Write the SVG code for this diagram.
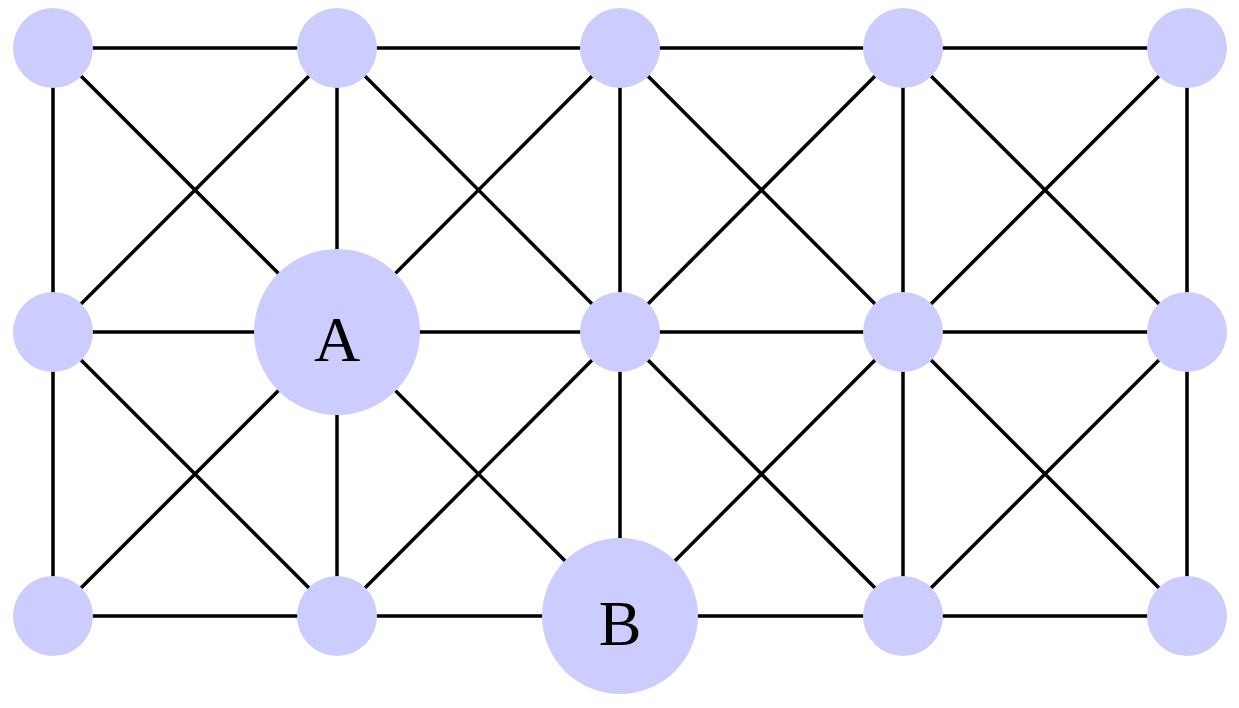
<svg xmlns="http://www.w3.org/2000/svg" width="1239" height="708" viewBox="0 0 1239 708">
<style>
.e{stroke:#000;stroke-width:3.5;fill:none}
.n{fill:#ccccff}
.t{font-family:"Liberation Serif",serif;font-size:64px;fill:#000;text-anchor:middle}
</style>
<rect width="1239" height="708" fill="#fff"/>
<g id="connectors" class="e">
<path d="M53 48H1187M53 332H1187M53 616H1187"/>
<path d="M53 48V616M337 48V616M620 48V616M903 48V616M1187 48V616"/>
<path d="M53 48L337 332L620 48L903 332L1187 48M53 332L337 48L620 332L903 48L1187 332"/>
<path d="M53 332L337 616L620 332L903 616L1187 332M53 616L337 332L620 616L903 332L1187 616"/>
</g>
<g id="n00"><circle class="n" cx="53" cy="48" r="40"/></g>
<g id="n10"><circle class="n" cx="337" cy="48" r="40"/></g>
<g id="n20"><circle class="n" cx="620" cy="48" r="40"/></g>
<g id="n30"><circle class="n" cx="903" cy="48" r="40"/></g>
<g id="n40"><circle class="n" cx="1187" cy="48" r="40"/></g>
<g id="n01"><circle class="n" cx="53" cy="332" r="40"/></g>
<g id="A"><circle class="n" cx="337" cy="332" r="83"/><text class="t" x="337" y="361">A</text></g>
<g id="n21"><circle class="n" cx="620" cy="332" r="40"/></g>
<g id="n31"><circle class="n" cx="903" cy="332" r="40"/></g>
<g id="n41"><circle class="n" cx="1187" cy="332" r="40"/></g>
<g id="n02"><circle class="n" cx="53" cy="616" r="40"/></g>
<g id="n12"><circle class="n" cx="337" cy="616" r="40"/></g>
<g id="B"><circle class="n" cx="620" cy="616" r="78"/><text class="t" x="620" y="645">B</text></g>
<g id="n32"><circle class="n" cx="903" cy="616" r="40"/></g>
<g id="n42"><circle class="n" cx="1187" cy="616" r="40"/></g>
</svg>
